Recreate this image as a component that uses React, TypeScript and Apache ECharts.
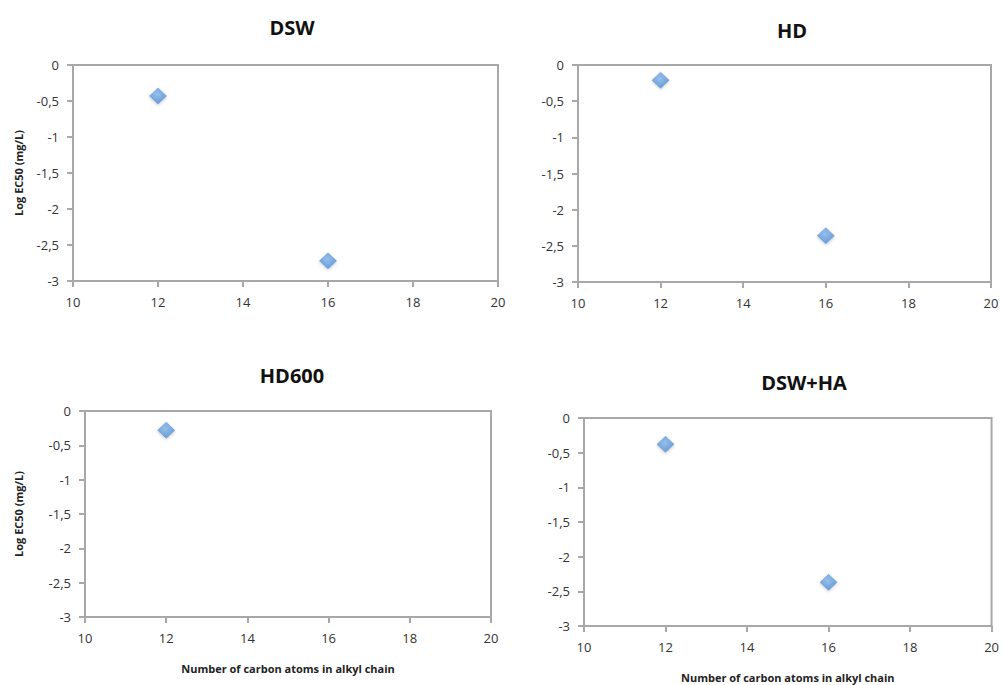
import React, { useEffect, useRef } from "react";
import * as echarts from "echarts";

const panelTitles = ["DSW", "HD", "HD600", "DSW+HA"];
const carbonAtoms = [12, 16];
const dswValues = [-0.43, -2.72];
const hdValues = [-0.21, -2.36];
const hd600Values = [-0.28];
const dswHaValues = [-0.38, -2.37];
const xTicks = { min: 10, max: 20, interval: 2 };
const yTicks = { min: -3, max: 0, interval: 0.5 };
const yName = "Log EC50 (mg/L)";
const xName = "Number of carbon atoms in alkyl chain";

const panelValues = [dswValues, hdValues, hd600Values, dswHaValues];

const grids = [
  { left: 73, top: 65, width: 425, height: 216 },
  { left: 578, top: 65, width: 413, height: 217 },
  { left: 85, top: 411, width: 406, height: 206 },
  { left: 584, top: 418, width: 412, height: 208 },
];
const titlePos = [
  { left: 287, top: 12 },
  { left: 787, top: 15 },
  { left: 287, top: 360 },
  { left: 799, top: 367 },
];
const showYName = [true, false, true, false];
const showXName = [false, false, true, true];
const yNameGap = [49, 0, 61, 0];

const FONT = "'Open Sans', 'Noto Sans', sans-serif";
const AXIS_COLOR = "#a8a8a8";

export default function App() {
  const ref = useRef<HTMLDivElement>(null);
  useEffect(() => {
    if (!ref.current) return;
    const chart = echarts.init(ref.current, undefined, { renderer: "svg" });
    const fmt = (v: number) => String(v).replace(".", ",");
    const option: any = {
      animation: false,
      backgroundColor: "#ffffff",
      title: panelTitles.map((t, i) => ({
        text: t,
        left: titlePos[i].left,
        top: titlePos[i].top,
        textAlign: "center",
        textStyle: { fontFamily: FONT, fontSize: 20, fontWeight: "bold", color: "#111" },
      })),
      grid: grids.map((g) => ({
        ...g,
        show: true,
        borderColor: AXIS_COLOR,
        borderWidth: 2,
        backgroundColor: "#fff",
        containLabel: false,
      })),
      xAxis: grids.map((_, i) => ({
        type: "value",
        gridIndex: i,
        min: xTicks.min,
        max: xTicks.max,
        interval: xTicks.interval,
        name: showXName[i] ? xName : "",
        nameLocation: "middle",
        nameGap: 46,
        nameTextStyle: { fontFamily: FONT, fontSize: 11, fontWeight: "bold", color: "#222" },
        axisLine: { show: true, onZero: false, lineStyle: { color: AXIS_COLOR, width: 2 } },
        axisTick: { show: true, length: 6, lineStyle: { color: AXIS_COLOR, width: 2 } },
        axisLabel: { fontFamily: FONT, fontSize: 13, color: "#333", margin: 14, formatter: fmt },
        splitLine: { show: false },
      })),
      yAxis: grids.map((_, i) => ({
        type: "value",
        gridIndex: i,
        min: yTicks.min,
        max: yTicks.max,
        interval: yTicks.interval,
        name: showYName[i] ? yName : "",
        nameLocation: "middle",
        nameGap: yNameGap[i],
        nameTextStyle: { fontFamily: FONT, fontSize: 11, fontWeight: "bold", color: "#222" },
        axisLine: { show: true, onZero: false, lineStyle: { color: AXIS_COLOR, width: 2 } },
        axisTick: { show: true, length: 6, lineStyle: { color: AXIS_COLOR, width: 2 } },
        axisLabel: { fontFamily: FONT, fontSize: 13, color: "#333", margin: 14, formatter: fmt },
        splitLine: { show: false },
      })),
      series: panelValues.map((vals, i) => ({
        type: "scatter",
        xAxisIndex: i,
        yAxisIndex: i,
        symbol: "diamond",
        symbolSize: [17, 16],
        itemStyle: {
          color: new echarts.graphic.RadialGradient(0.45, 0.4, 0.7, [
            { offset: 0, color: "#86b8ee" },
            { offset: 1, color: "#4584d0" },
          ]),
          borderColor: "#4f8ad0",
          borderWidth: 0.5,
          shadowColor: "rgba(0,0,0,0.3)",
          shadowBlur: 3,
          shadowOffsetY: 1,
        },
        data: vals.map((v, k) => [carbonAtoms[k], v]),
      })),
    };
    chart.setOption(option);
    return () => chart.dispose();
  }, []);
  return (
    <div
      ref={ref}
      style={{ position: "fixed", left: 0, top: 0, width: 1002, height: 685 }}
    />
  );
}
